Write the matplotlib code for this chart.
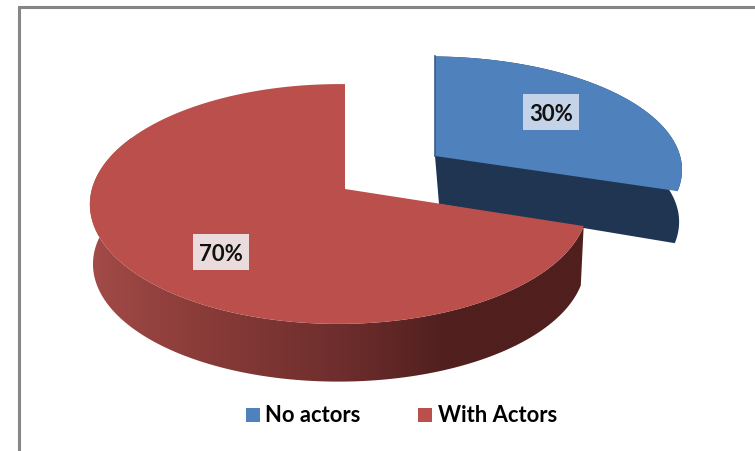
import numpy as np
import matplotlib
matplotlib.use("Agg")
import matplotlib.pyplot as plt
from matplotlib.colors import LinearSegmentedColormap
from matplotlib.patches import Polygon, Rectangle

labels = ["No actors", "With Actors"]
shares = [30, 70]
share_text = ["30%", "70%"]
colors = ["#4f81bd", "#ba4f4b"]

plt.rcParams['font.family'] = ['Lato', 'DejaVu Sans']


def project(theta, x0=345, y0=190, a=247, b=118, k=0.125, m=0.024, drop=0):
    # unit circle (0 = top, clockwise) to the tilted pie plane, in pixels
    u, v = np.sin(theta), np.cos(theta)
    w = 1 + k * v + m * u
    return x0 + a * u / w, y0 - b * v / w + drop


def arc(start, end, **kw):
    t = np.linspace(start, end, 200)
    x, y = project(t, **kw)
    return np.column_stack([x, y])


fig = plt.figure(figsize=(7.55, 4.52), dpi=100)
ax = fig.add_axes([0, 0, 1, 1])
ax.axis("off")

# only the top and left of the chart border are in frame
ax.plot([18.5, 18.5, 755], [452, 8, 8], color="#868686", lw=2.2, solid_joinstyle="miter")

split = np.radians(shares[0] / sum(shares) * 360)

# exploded slice
blue = dict(x0=435, y0=157, a=251, b=112)
top = arc(0, split, **blue)
low = arc(0, split, x0=439, y0=157, a=244, b=112, drop=52)
apex = np.array([blue["x0"], blue["y0"]])
ax.add_patch(Polygon(np.vstack([[apex], [[apex[0] + 4, apex[1] + 48]], low[::-1], top[::-1]]),
                     fc="#1f3552", ec="none", zorder=2))
ax.add_patch(Polygon(np.vstack([[apex], top]), fc=colors[0], ec="none", zorder=3))
ax.plot([top[0, 0], apex[0]], [top[0, 1], apex[1]], color="#3b5c85", lw=1.2, zorder=3)

# large slice, rim first so that the face covers it
face = arc(split, 2 * np.pi)
rim_low = arc(split, 2 * np.pi, drop=60, a=244, b=116)
shade = LinearSegmentedColormap.from_list(
    "rim", [(0, "#a34b48"), (0.2, "#8c3d3a"), (0.5, "#6e2e2d"), (0.72, "#501f1e"), (1, "#501f1e")])
grad = np.linspace(0, 1, 400).reshape(1, -1)
im = ax.imshow(grad, extent=(88, 590, 452, 0), cmap=shade, aspect="auto", zorder=4)
clip = Polygon(np.vstack([face[:150], rim_low[:150][::-1]]), transform=ax.transData, fc="none", ec="none")
ax.add_patch(clip)
im.set_clip_path(clip)
ax.add_patch(Polygon(np.vstack([[[345, 190]], face]), fc=colors[1], ec="none", zorder=5))

# data labels
for (bx, by), txt, back in zip([(523, 95), (193, 235)], share_text, ["#c5d3e8", "#eadcdc"]):
    ax.add_patch(Rectangle((bx, by), 56, 36, fc=back, ec="none", zorder=6))
    ax.text(bx + 28, by + 19.5, txt, ha="center", va="center", fontsize=16, fontweight="bold",
            color="#111111", zorder=7)

# legend
for sx, tx, name, col in zip([246, 418], [265, 438], labels, colors):
    ax.add_patch(Rectangle((sx, 409), 14, 14, fc=col, ec="none"))
    ax.text(tx, 416, name, ha="left", va="center", fontsize=15.8, fontweight="bold", color="#000000")

ax.set_xlim(0, 755)
ax.set_ylim(452, 0)

fig.savefig("out.png", dpi=100)
